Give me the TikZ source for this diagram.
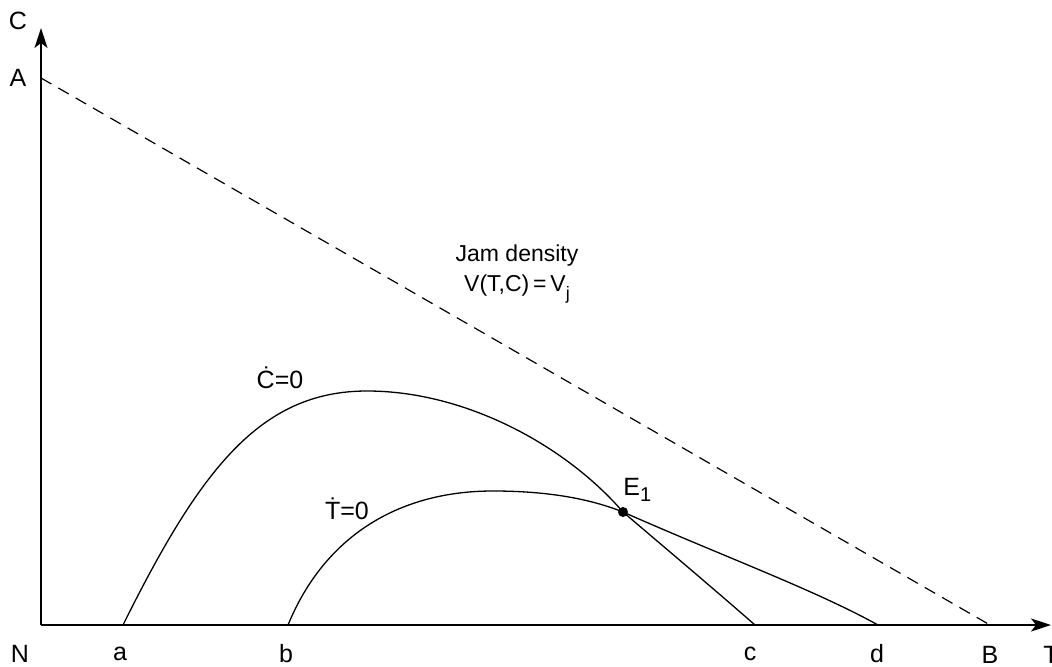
\documentclass[tikz,border=0pt]{standalone}
\usepackage{fontspec}
\setmainfont{Liberation Sans}
\usetikzlibrary{arrows.meta}
\begin{document}
\begin{tikzpicture}[x=0.5pt,y=-0.5pt,
  axis/.style={line width=0.75pt,-{Stealth[length=10pt,width=6.5pt,inset=2.5pt]}},
  curve/.style={line width=0.65pt},
  jam/.style={line width=0.6pt,dash pattern=on 6pt off 4pt},
  lab/.style={inner sep=0pt,font=\fontsize{12.5}{15}\selectfont},
  txt/.style={inner sep=0pt,font=\fontsize{11.5}{14}\selectfont,align=center},
  dotstyle/.style={circle,fill=black,inner sep=0pt,minimum size=5pt}]
\useasboundingbox (0,0) rectangle (1052,667);
% axes
\coordinate (O) at (41,625);
\coordinate (Ytip) at (41,28);
\coordinate (Xtip) at (1051,625);
\draw[axis] (O) -- (Ytip);
\draw[axis] (O) -- (Xtip);
% jam density line
\coordinate (Apt) at (41,78);
\coordinate (Bpt) at (990,625);
\draw[jam] (Apt) -- (Bpt);
% key points
\coordinate (apt) at (123,625);
\coordinate (bpt) at (288,625);
\coordinate (cpt) at (755,625);
\coordinate (dpt) at (878,625);
\coordinate (Cpk) at (367,391);
\coordinate (Tpk) at (493,491);
\node[dotstyle] (E1) at (623,512) {};
% C dot = 0 curve
\draw[curve] (apt) .. controls (200,470) and (260,391) .. (Cpk)
  .. controls (465,391) and (565,445) .. (E1.center)
  .. controls (670,552) and (715,590) .. (cpt);
% T dot = 0 curve
\draw[curve] (bpt) .. controls (325,535) and (400,491) .. (Tpk)
  .. controls (545,491) and (588,498) .. (E1.center)
  .. controls (720,555) and (815,590) .. (dpt);
% labels
\node[lab] (Clab) at (18,21) {C};
\node[lab] (Alab) at (18,78) {A};
\node[lab] (Nlab) at (20,654) {N};
\node[lab] (alab) at (120,654) {a};
\node[lab] (blab) at (286,654) {b};
\node[lab] (clab) at (750,654) {c};
\node[lab] (dlab) at (877,654) {d};
\node[lab] (Blab) at (990,655) {B};
\node[lab,anchor=west] (Tlab) at (1043,655) {T};
\node[lab,anchor=south west] (E1lab) at (623,502) {E\raisebox{-0.45ex}{\fontsize{10}{12}\selectfont 1}};
\node[lab] (Cdot) at (280,378) {\.{C}=0};
\node[lab] (Tdot) at (347,509) {\.{T}=0};
\node[txt] (jamlab) at (517,274) {Jam density\\[1pt]V(T,C)\,=\,V\raisebox{-0.7ex}{\fontsize{9}{10}\selectfont j}};
\end{tikzpicture}
\end{document}
